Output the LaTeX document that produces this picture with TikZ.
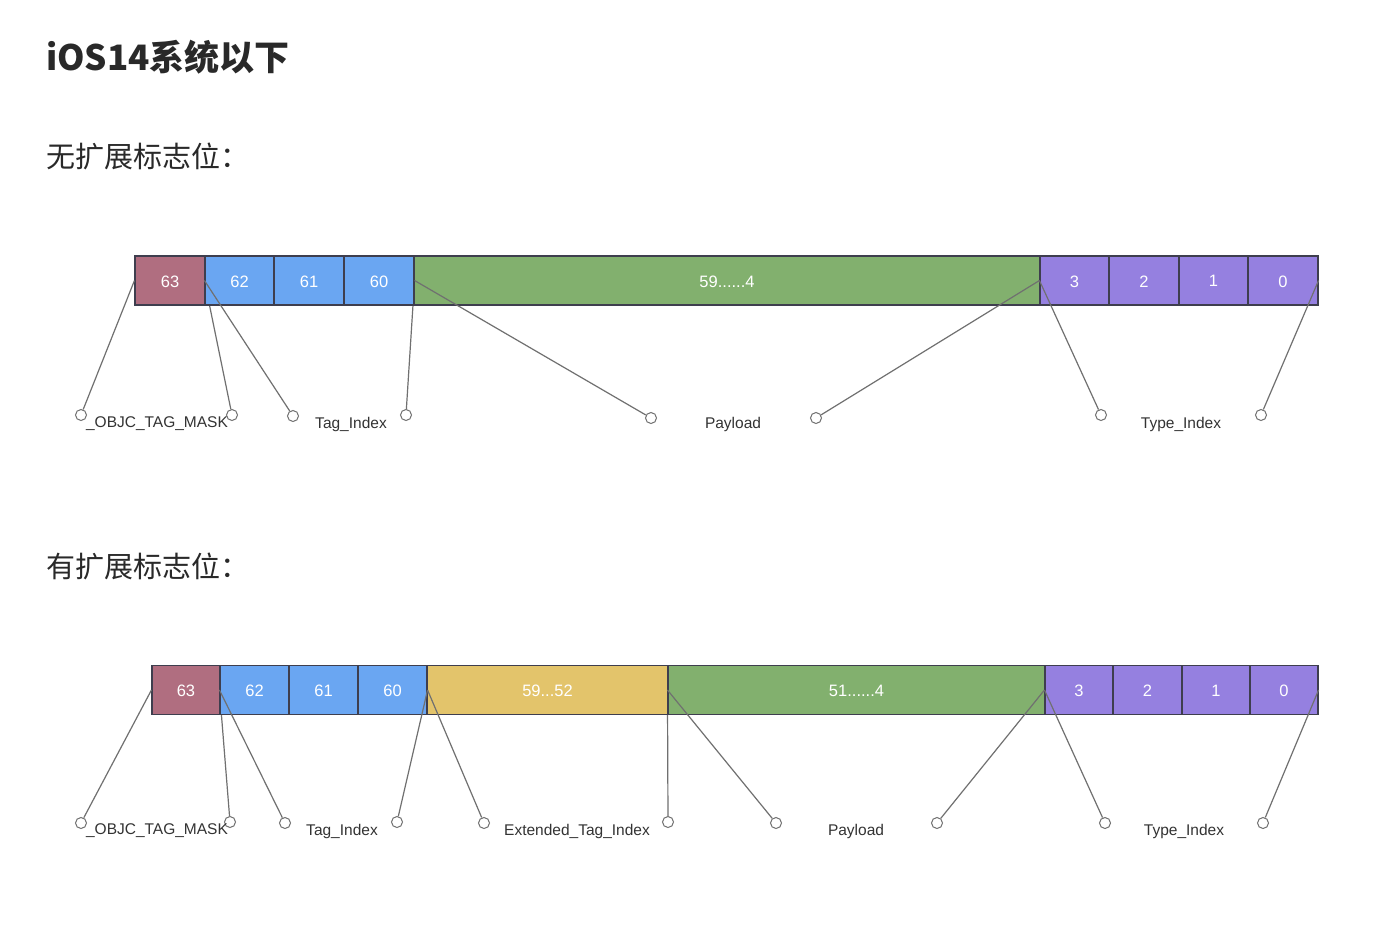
\documentclass[tikz,border=0pt]{standalone}
\usepackage{fontspec}
\setmainfont{Liberation Sans}
\newfontfamily\cjk{Noto Sans CJK SC}
\usetikzlibrary{backgrounds}
\definecolor{cRose}{HTML}{B06E80}
\definecolor{cBlue}{HTML}{6AA6F2}
\definecolor{cGreen}{HTML}{82B06E}
\definecolor{cPurple}{HTML}{9580E0}
\definecolor{cYellow}{HTML}{E3C46B}
\definecolor{cBorder}{HTML}{3E3E4E}
\definecolor{cLine}{HTML}{707070}
\definecolor{cText}{HTML}{333333}
\tikzset{
  cellbox/.style={draw=cBorder, line width=1.1pt, inner sep=0pt, text=white,
    font=\fontsize{16.5}{18}\selectfont, minimum height=49pt, text depth=0pt},
  pin/.style={circle, draw=cLine, fill=white, line width=1pt, minimum size=11pt, inner sep=0pt},
  conn/.style={draw=cLine, line width=1.2pt},
  lbl/.style={text=cText, font=\fontsize{15.5}{18}\selectfont, inner sep=0pt},
  head/.style={text=cText!80!black, anchor=west, inner sep=0pt},
}
\newcommand{\bitcell}[6]{% name, x0, x1, ymid, color, text
  \node[cellbox, fill=#5, minimum width={(#3-#2)*1pt}] (#1) at ({(#2+#3)/2},#4) {\raisebox{-1.5pt}{#6}};}
\begin{document}
\begin{tikzpicture}[x=1pt,y=-1pt]
\begin{scope}[on background layer]
\fill[white] (0,0) rectangle (1386,924);
\end{scope}
\useasboundingbox (0,0) rectangle (1386,924);

% headings
\node[head, font=\cjk\bfseries\fontsize{35}{37}\selectfont] (h1) at (46,57) {iOS14系统以下};
\node[head, font=\cjk\fontsize{29}{32}\selectfont] (h2) at (46,156) {无扩展标志位：};
\node[head, font=\cjk\fontsize{29}{32}\selectfont] (h3) at (46,566) {有扩展标志位：};

% ---------- top bar ----------
\bitcell{t63}{135}{205}{280.5}{cRose}{63}
\bitcell{t62}{205}{274}{280.5}{cBlue}{62}
\bitcell{t61}{274}{344}{280.5}{cBlue}{61}
\bitcell{t60}{344}{414}{280.5}{cBlue}{60}
\bitcell{tP}{414}{1040}{280.5}{cGreen}{59......4}
\bitcell{t3}{1040}{1109}{280.5}{cPurple}{3}
\bitcell{t2}{1109}{1179}{280.5}{cPurple}{2}
\bitcell{t1}{1179}{1248}{280.5}{cPurple}{1}
\bitcell{t0}{1248}{1318}{280.5}{cPurple}{0}

\node[pin] (ta) at (81,415) {};
\node[pin] (tb) at (232,415) {};
\node[pin] (tc) at (293,416) {};
\node[pin] (td) at (406,415) {};
\node[pin] (te) at (651,418) {};
\node[pin] (tf) at (816,418) {};
\node[pin] (tg) at (1101,415) {};
\node[pin] (th) at (1261,415) {};

\begin{scope}[on background layer]
\draw[conn] (t62.west) -- (tb);
\draw[conn] (t60.east) -- (td);
\end{scope}
\draw[conn] (t63.west) -- (ta);
\draw[conn] (t62.west) -- (tc);
\draw[conn] (t60.east) -- (te);
\draw[conn] (t3.west) -- (tf);
\draw[conn] (t3.west) -- (tg);
\draw[conn] (t0.east) -- (th);

\node[lbl] (tl1) at (157,424) {\_OBJC\_TAG\_MASK};
\node[lbl] (tl2) at (351,424) {Tag\_Index};
\node[lbl] (tl3) at (733,424) {Payload};
\node[lbl] (tl4) at (1181,424) {Type\_Index};

% ---------- bottom bar ----------
\bitcell{b63}{152}{220}{690}{cRose}{63}
\bitcell{b62}{220}{289}{690}{cBlue}{62}
\bitcell{b61}{289}{358}{690}{cBlue}{61}
\bitcell{b60}{358}{427}{690}{cBlue}{60}
\bitcell{bE}{427}{668}{690}{cYellow}{59...52}
\bitcell{bP}{668}{1045}{690}{cGreen}{51......4}
\bitcell{b3}{1045}{1113}{690}{cPurple}{3}
\bitcell{b2}{1113}{1182}{690}{cPurple}{2}
\bitcell{b1}{1182}{1250}{690}{cPurple}{1}
\bitcell{b0}{1250}{1318}{690}{cPurple}{0}

\node[pin] (ba) at (81,823) {};
\node[pin] (bb) at (230,822) {};
\node[pin] (bc) at (285,823) {};
\node[pin] (bd) at (397,822) {};
\node[pin] (be) at (484,823) {};
\node[pin] (bf) at (668,822) {};
\node[pin] (bg) at (776,823) {};
\node[pin] (bh) at (937,823) {};
\node[pin] (bi) at (1105,823) {};
\node[pin] (bj) at (1263,823) {};

\begin{scope}[on background layer]
\draw[conn] (b62.west) -- (bb);
\draw[conn] (bP.west) -- (bf);
\end{scope}
\draw[conn] (b63.west) -- (ba);
\draw[conn] (b62.west) -- (bc);
\draw[conn] (b60.east) -- (bd);
\draw[conn] (b60.east) -- (be);
\draw[conn] (bP.west) -- (bg);
\draw[conn] (b3.west) -- (bh);
\draw[conn] (b3.west) -- (bi);
\draw[conn] (b0.east) -- (bj);

\node[lbl] (bl1) at (157,831) {\_OBJC\_TAG\_MASK};
\node[lbl] (bl2) at (342,831) {Tag\_Index};
\node[lbl] (bl3) at (577,831) {Extended\_Tag\_Index};
\node[lbl] (bl4) at (856,831) {Payload};
\node[lbl] (bl5) at (1184,831) {Type\_Index};
\end{tikzpicture}
\end{document}
